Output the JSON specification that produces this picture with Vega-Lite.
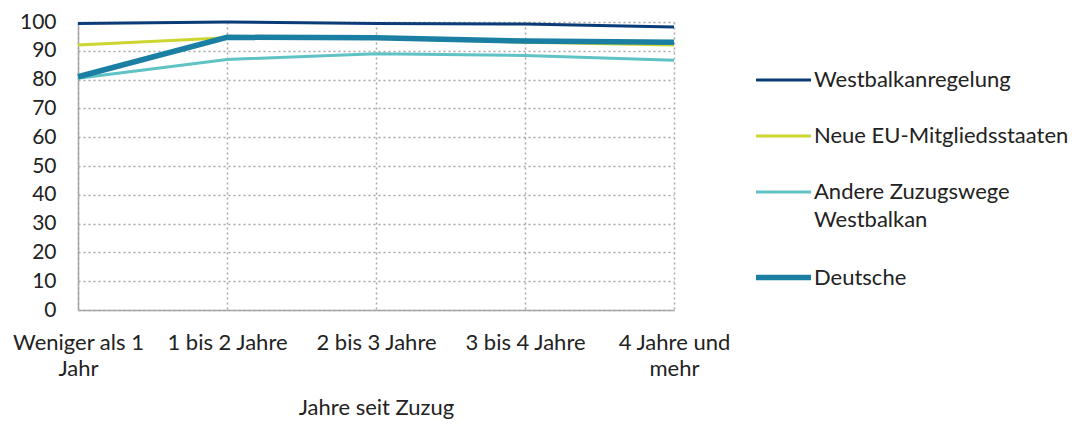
{
  "$schema": "https://vega.github.io/schema/vega-lite/v6.json",
  "autosize": "none",
  "width": 596,
  "height": 288,
  "padding": {"left": 78, "top": 22, "right": 401, "bottom": 114},
  "background": "white",
  "config": {
    "view": {"stroke": null},
    "font": "Lato",
    "axis": {"labelFont": "Lato", "titleFont": "Lato", "labelColor": "#222222", "titleColor": "#222222", "labelFontSize": 21, "titleFontSize": 22, "titleFontWeight": "normal", "domainColor": "#a6a6a6", "domainWidth": 1.5, "ticks": false, "gridColor": "#a6a6a6", "gridDash": [2, 3], "gridWidth": 1.5},
    "legend": {"labelFont": "Lato", "labelFontSize": 22, "labelColor": "#222222"}
  },
  "data": {
    "values": [
      {"Jahre": "Weniger als 1 Jahr", "Gruppe": "Westbalkanregelung", "Wert": 99.5},
      {"Jahre": "1 bis 2 Jahre", "Gruppe": "Westbalkanregelung", "Wert": 100},
      {"Jahre": "2 bis 3 Jahre", "Gruppe": "Westbalkanregelung", "Wert": 99.5},
      {"Jahre": "3 bis 4 Jahre", "Gruppe": "Westbalkanregelung", "Wert": 99.3},
      {"Jahre": "4 Jahre und mehr", "Gruppe": "Westbalkanregelung", "Wert": 98.3},
      {"Jahre": "Weniger als 1 Jahr", "Gruppe": "Neue EU-Mitgliedsstaaten", "Wert": 92},
      {"Jahre": "1 bis 2 Jahre", "Gruppe": "Neue EU-Mitgliedsstaaten", "Wert": 94.5},
      {"Jahre": "2 bis 3 Jahre", "Gruppe": "Neue EU-Mitgliedsstaaten", "Wert": 94.4},
      {"Jahre": "3 bis 4 Jahre", "Gruppe": "Neue EU-Mitgliedsstaaten", "Wert": 93},
      {"Jahre": "4 Jahre und mehr", "Gruppe": "Neue EU-Mitgliedsstaaten", "Wert": 92},
      {"Jahre": "Weniger als 1 Jahr", "Gruppe": "Andere Zuzugswege Westbalkan", "Wert": 80.5},
      {"Jahre": "1 bis 2 Jahre", "Gruppe": "Andere Zuzugswege Westbalkan", "Wert": 87},
      {"Jahre": "2 bis 3 Jahre", "Gruppe": "Andere Zuzugswege Westbalkan", "Wert": 89},
      {"Jahre": "3 bis 4 Jahre", "Gruppe": "Andere Zuzugswege Westbalkan", "Wert": 88.4},
      {"Jahre": "4 Jahre und mehr", "Gruppe": "Andere Zuzugswege Westbalkan", "Wert": 86.7},
      {"Jahre": "Weniger als 1 Jahr", "Gruppe": "Deutsche", "Wert": 81},
      {"Jahre": "1 bis 2 Jahre", "Gruppe": "Deutsche", "Wert": 94.7},
      {"Jahre": "2 bis 3 Jahre", "Gruppe": "Deutsche", "Wert": 94.5},
      {"Jahre": "3 bis 4 Jahre", "Gruppe": "Deutsche", "Wert": 93.4},
      {"Jahre": "4 Jahre und mehr", "Gruppe": "Deutsche", "Wert": 93}
    ]
  },
  "mark": {"type": "line", "strokeCap": "butt", "strokeJoin": "miter"},
  "encoding": {
    "x": {
      "field": "Jahre", "type": "ordinal", "sort": null,
      "scale": {"type": "point", "padding": 0},
      "axis": {"title": "Jahre seit Zuzug", "labelAngle": 0, "labelPadding": 22, "labelLineHeight": 26, "titlePadding": 18, "grid": true, "labelFontSize": 22,
        "labelExpr": "datum.label == 'Weniger als 1 Jahr' ? ['Weniger als 1', 'Jahr'] : datum.label == '4 Jahre und mehr' ? ['4 Jahre und', 'mehr'] : datum.label"}
    },
    "y": {
      "field": "Wert", "type": "quantitative",
      "scale": {"domain": [0, 100]},
      "axis": {"title": null, "values": [0,10,20,30,40,50,60,70,80,90,100], "labelPadding": 22, "grid": true}
    },
    "color": {
      "field": "Gruppe", "type": "nominal", "sort": null,
      "scale": {"domain": ["Westbalkanregelung", "Neue EU-Mitgliedsstaaten", "Andere Zuzugswege Westbalkan", "Deutsche"], "range": ["#0b3c78", "#cdd630", "#5fc2c4", "#1a7fa3"]},
      "legend": {"title": null, "orient": "none", "legendX": 675, "legendY": 29, "symbolType": "stroke", "symbolSize": 3025, "labelOffset": 0, "rowPadding": 16, "labelLimit": 300,
        "encode": {"labels": {"update": {"lineHeight": {"value": 28}}}},
        "labelExpr": "datum.label == 'Andere Zuzugswege Westbalkan' ? ['Andere Zuzugswege', 'Westbalkan'] : datum.label"}
    },
    "strokeWidth": {
      "field": "Gruppe", "type": "nominal", "sort": null,
      "scale": {"type": "ordinal", "domain": ["Westbalkanregelung", "Neue EU-Mitgliedsstaaten", "Andere Zuzugswege Westbalkan", "Deutsche"], "range": [3, 3, 3, 5.5]},
      "legend": {"title": null, "orient": "none", "legendX": 675, "legendY": 29, "symbolType": "stroke", "symbolSize": 3025, "labelOffset": 0, "rowPadding": 16, "labelLimit": 300,
        "encode": {"labels": {"update": {"lineHeight": {"value": 28}}}},
        "labelExpr": "datum.label == 'Andere Zuzugswege Westbalkan' ? ['Andere Zuzugswege', 'Westbalkan'] : datum.label"}
    }
  }
}
